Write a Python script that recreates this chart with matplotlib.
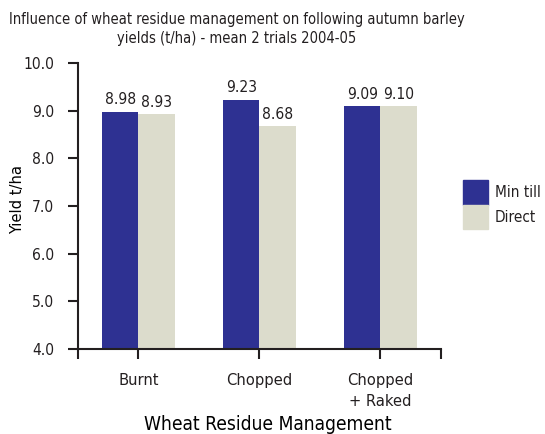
import numpy as np
import matplotlib.pyplot as plt
from matplotlib import font_manager as fm
from matplotlib.patches import Patch

categories = ["Burnt", "Chopped", "Chopped\n+ Raked"]
min_till = [8.98, 9.23, 9.09]
direct = [8.93, 8.68, 9.10]
series_names = ["Min till", "Direct"]
yticks = [4.0, 5.0, 6.0, 7.0, 8.0, 9.0, 10.0]

blue = "#2e3192"
beige = "#dcdccc"
txt = "#231f20"

# look for a narrow font, the original uses a condensed face
narrow = None
for f in fm.fontManager.ttflist:
    n = f.name.lower()
    if ("narrow" in n or "condensed" in n or f.stretch in ("condensed", "semi-condensed")) \
            and f.style == "normal" and f.weight in (400, "normal", "regular"):
        narrow = f
        break
if narrow is not None:
    plt.rcParams["font.family"] = [narrow.name, "DejaVu Sans"]
    plt.rcParams["font.stretch"] = narrow.stretch
    k = 1.0
else:
    plt.rcParams["font.family"] = ["DejaVu Sans"]
    k = 0.85
plt.rcParams["text.color"] = txt

fig = plt.figure(figsize=(5.45, 4.34), dpi=100)
ax = fig.add_axes([0.143, 0.196, 0.666, 0.659])

x = np.arange(len(categories))
w = 0.3
b1 = ax.bar(x - w / 2, np.array(min_till) - 4, w, bottom=4, color=blue)
b2 = ax.bar(x + w / 2, np.array(direct) - 4, w, bottom=4, color=beige)

for bars, vals in [(b1, min_till), (b2, direct)]:
    for r, v in zip(bars, vals):
        ax.annotate(f"{v:.2f}", (r.get_x() + r.get_width() / 2, v), xytext=(0, 3),
                    textcoords="offset points", ha="center", va="bottom", fontsize=11.2 * k)

ax.set_xlim(-0.5, 2.5)
ax.set_ylim(4, 10)
ax.set_yticks(yticks)
ax.set_yticklabels([f"{t:.1f}" for t in yticks], fontsize=11.2 * k)
ax.set_xticks([-0.5, 0, 1, 2, 2.5])
ax.set_xticklabels([""] + categories + [""], fontsize=11.8 * k, linespacing=1.55)
ax.tick_params(axis="both", direction="out", length=7, width=1.5, colors=txt, labelcolor=txt)
ax.tick_params(axis="x", pad=10)
ax.tick_params(axis="y", pad=10)
for s in ["top", "right"]:
    ax.spines[s].set_visible(False)
for s in ["left", "bottom"]:
    ax.spines[s].set_linewidth(1.5)
    ax.spines[s].set_color(txt)

ax.set_ylabel("Yield t/ha", fontsize=11.8 * k, va="center")
ax.yaxis.set_label_coords(-0.167, 0.521)
ax.set_xlabel("Wheat Residue Management", fontsize=13.8 * k, va="center")
ax.xaxis.set_label_coords(0.523, -0.265)

fig.text(0.435, 0.972,
         "Influence of wheat residue management on following autumn barley\nyields (t/ha) - mean 2 trials 2004-05",
         fontsize=10.5 * k, ha="center", va="top", linespacing=1.3)

fs_px = 11 * k * 100 / 72
handles = [Patch(color=blue), Patch(color=beige)]
fig.legend(handles, series_names, loc="upper left", bbox_to_anchor=(463 / 545, 1 - 180 / 434),
           frameon=False, fontsize=11 * k, handlelength=25 / fs_px,
           handleheight=(24.5 / fs_px - 0.245) / 0.65,
           labelspacing=0.0, handletextpad=7 / fs_px, borderpad=0, borderaxespad=0)

fig.savefig("out.png", dpi=100)
